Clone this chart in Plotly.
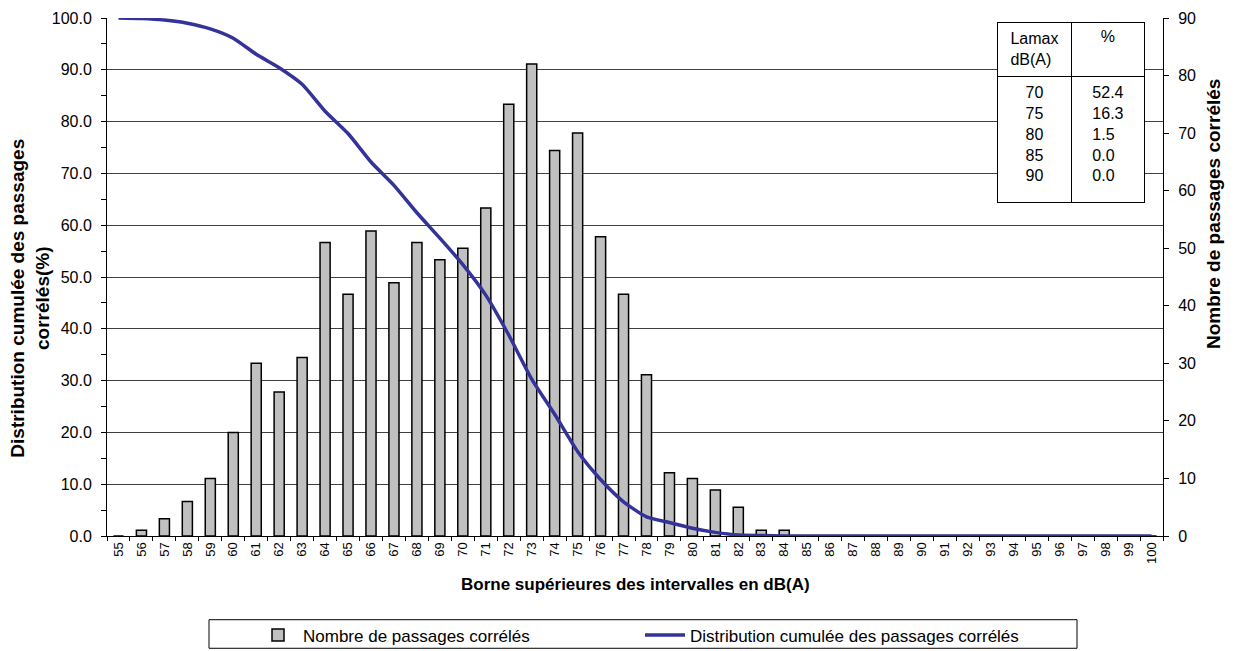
import plotly.graph_objects as go

# bornes supérieures des intervalles (dB(A))
bornes = ['55', '56', '57', '58', '59', '60', '61', '62', '63', '64',
          '65', '66', '67', '68', '69', '70', '71', '72', '73', '74',
          '75', '76', '77', '78', '79', '80', '81', '82', '83', '84',
          '85', '86', '87', '88', '89', '90', '91', '92', '93', '94',
          '95', '96', '97', '98', '99', '100']

# nombre de passages corrélés par intervalle
nb_passages = [0, 1, 3, 6, 10, 18, 30, 25, 31, 51,
               42, 53, 44, 51, 48, 50, 57, 75, 82, 67,
               70, 52, 42, 28, 11, 10, 8, 5, 1, 1,
               0, 0, 0, 0, 0, 0, 0, 0, 0, 0,
               0, 0, 0, 0, 0, 0]

# distribution cumulée (%)
distrib_cumulee = [100.0, 99.9, 99.6, 99.0, 97.9, 96.1, 93.0, 90.4, 87.2, 82.0,
                   77.7, 72.2, 67.7, 62.4, 57.5, 52.4, 46.5, 38.8, 30.3, 23.5,
                   16.3, 10.9, 6.6, 3.7, 2.6, 1.5, 0.7, 0.2, 0.1, 0.0,
                   0.0, 0.0, 0.0, 0.0, 0.0, 0.0, 0.0, 0.0, 0.0, 0.0,
                   0.0, 0.0, 0.0, 0.0, 0.0, 0.0]

# tableau en haut à droite
tab_entete = ['Lamax<br>dB(A)', '%']
tab_lamax = ['70', '75', '80', '85', '90']
tab_pct = ['52.4', '16.3', '1.5', '0.0', '0.0']

police = 'Arial, Liberation Sans, sans-serif'

fig = go.Figure()

fig.add_trace(
    go.Bar(
        x=bornes,
        y=nb_passages,
        name='Nombre de passages corrélés',
        marker=dict(color='#C0C0C0', line=dict(color='black', width=1.5)),
        yaxis='y'
    )
)

fig.add_trace(
    go.Scatter(
        x=bornes,
        y=distrib_cumulee,
        name='Distribution cumulée des passages corrélés',
        mode='lines',
        line=dict(color='#333399', width=3.5, shape='spline', smoothing=0.6),
        yaxis='y2'
    )
)

fig.add_trace(
    go.Table(
        domain=dict(x=[0.843, 0.983], y=[0.60, 0.992]),
        columnwidth=[75, 73],
        header=dict(
            values=tab_entete,
            height=54,
            align='center',
            fill_color='white',
            line=dict(color='black', width=1),
            font=dict(family=police, size=16, color='black')
        ),
        cells=dict(
            values=[['<br>'.join(tab_lamax)], ['<br>'.join(tab_pct)]],
            height=126,
            align='center',
            fill_color='white',
            line=dict(color='black', width=1),
            font=dict(family=police, size=16, color='black')
        )
    )
)

fig.update_layout(
    width=1235,
    height=651,
    margin=dict(l=107, r=72, t=10, b=115),
    plot_bgcolor='white',
    paper_bgcolor='white',
    font=dict(family=police, color='black'),
    bargap=0.56,
    showlegend=True,
    legend=dict(
        orientation='h',
        xref='container',
        yref='container',
        x=253 / 1235,
        xanchor='left',
        y=1 - 635.5 / 651,
        yanchor='middle',
        itemwidth=40,
        entrywidth=332,
        font=dict(size=17),
        borderwidth=0,
        bgcolor='rgba(0,0,0,0)'
    ),
    xaxis=dict(
        type='category',
        tickangle=-90,
        tickson='boundaries',
        ticks='outside',
        ticklen=4,
        tickcolor='black',
        showline=True,
        linecolor='black',
        showgrid=False,
        tickfont=dict(size=13)
    ),
    yaxis=dict(
        side='right',
        range=[0, 90],
        dtick=10,
        ticks='outside',
        ticklen=5,
        tickcolor='black',
        showline=True,
        linecolor='black',
        showgrid=False,
        zeroline=False,
        tickfont=dict(size=16),
        ticklabelstandoff=6
    ),
    yaxis2=dict(
        overlaying='y',
        side='left',
        range=[0, 100],
        dtick=10,
        tickformat='.1f',
        ticks='outside',
        ticklen=5,
        tickcolor='black',
        minor=dict(dtick=5, ticks='outside', ticklen=5, tickcolor='black'),
        showline=True,
        linecolor='black',
        showgrid=True,
        gridcolor='#404040',
        gridwidth=1,
        zeroline=False,
        tickfont=dict(size=16),
        ticklabelstandoff=6
    ),
    annotations=[
        dict(
            text='<b>Borne supérieures des intervalles en dB(A)</b>',
            xref='paper', yref='paper',
            x=0.5, y=(536 - 585) / 526,
            xanchor='center', yanchor='middle',
            showarrow=False,
            font=dict(size=17, color='black', family=police)
        ),
        dict(
            text='<b>Distribution cumulée des passages<br>corrélés(%)</b>',
            xref='paper', yref='paper',
            x=(30 - 107) / 1056, y=(536 - 295) / 526,
            xanchor='center', yanchor='middle',
            showarrow=False,
            font=dict(size=19, color='black', family=police),
            textangle=-90
        ),
        dict(
            text='<b>Nombre de passages corrélés</b>',
            xref='paper', yref='paper',
            x=(1214 - 107) / 1056, y=(536 - 209) / 526,
            xanchor='center', yanchor='middle',
            showarrow=False,
            font=dict(size=19, color='black', family=police),
            textangle=-90
        ),
    ],
    shapes=[
        # cadre de la légende
        dict(
            type='rect',
            xref='paper', yref='paper',
            x0=(209 - 107) / 1056, x1=(1077 - 107) / 1056,
            y0=(536 - 621) / 526, y1=(536 - 650) / 526,
            line=dict(color='black', width=1)
        )
    ]
)

fig.write_html('out.html', config={'displayModeBar': False},
               post_script="document.body.style.margin='0';")
